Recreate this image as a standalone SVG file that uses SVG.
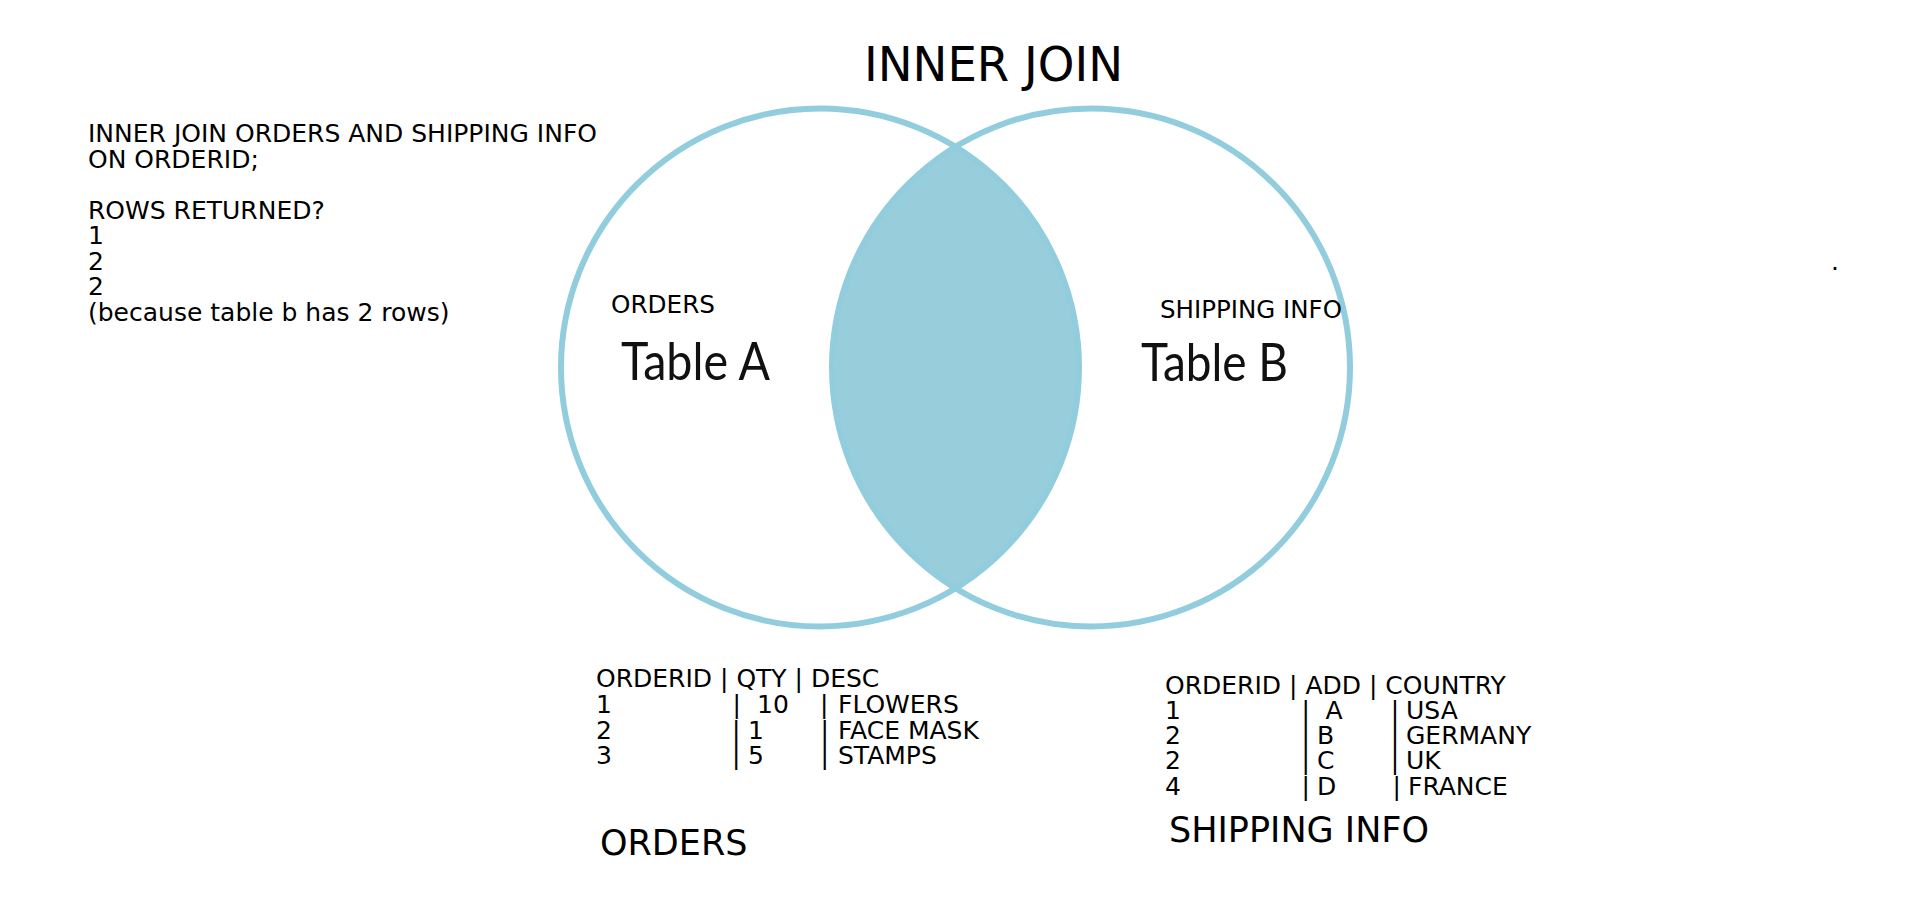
<svg xmlns="http://www.w3.org/2000/svg" width="1920" height="907" viewBox="0 0 1920 907">
<style>
.t{font-family:"DejaVu Sans",sans-serif;font-size:25px;fill:#000}
.big{font-family:"DejaVu Sans",sans-serif;font-size:35px;fill:#000}
.lbl{font-family:"DejaVu Sans",sans-serif;font-size:24px;fill:#000}
.tbl{font-family:Lato,"Liberation Sans",sans-serif;font-size:52px;fill:#111}
.ring{fill:none;stroke:#92cddd;stroke-width:6}
.lens{fill:#98cddc;stroke:#98cddc;stroke-width:1}
</style>
<rect width="1920" height="907" fill="#fff"/>
<g id="title"><text x="864" y="81" font-family="DejaVu Sans, sans-serif" font-size="48" textLength="259" lengthAdjust="spacingAndGlyphs">INNER JOIN</text></g>
<g id="query">
<text class="t" x="88" y="142">INNER JOIN ORDERS AND SHIPPING INFO</text>
<text class="t" x="88" y="167.5">ON ORDERID;</text>
<text class="t" x="88" y="218.5">ROWS RETURNED?</text>
<text class="t" x="88" y="244">1</text>
<text class="t" x="88" y="269.5">2</text>
<text class="t" x="88" y="295">2</text>
<text class="t" x="88" y="320.5">(because table b has 2 rows)</text>
</g>
<g id="connectors">
<path id="intersection" class="lens" d="M955.5,147.5 A259,259 0 0 0 955.5,587.5 A259,259 0 0 0 955.5,147.5 Z"/>
</g>
<g id="tableA">
<circle class="ring" cx="820" cy="367.5" r="259"/>
<text class="lbl" x="611" y="313" textLength="104" lengthAdjust="spacingAndGlyphs">ORDERS</text>
<text class="tbl" x="621" y="380" textLength="149" lengthAdjust="spacingAndGlyphs">Table A</text>
</g>
<g id="tableB">
<circle class="ring" cx="1091" cy="367.5" r="259"/>
<text class="lbl" x="1160" y="318" textLength="182" lengthAdjust="spacingAndGlyphs">SHIPPING INFO</text>
<text class="tbl" x="1141" y="381" textLength="147" lengthAdjust="spacingAndGlyphs">Table B</text>
</g>
<g id="ordersTable">
<text class="t" x="596" y="687">ORDERID | QTY | DESC</text>
<text class="t" y="713"><tspan x="596">1</tspan><tspan x="732.5">|</tspan><tspan x="757">10</tspan><tspan x="820">|</tspan><tspan x="838">FLOWERS</tspan></text>
<text class="t" y="739"><tspan x="596">2</tspan><tspan x="732">|</tspan><tspan x="748">1</tspan><tspan x="820.5">|</tspan><tspan x="838">FACE MASK</tspan></text>
<text class="t" y="764"><tspan x="596">3</tspan><tspan x="732">|</tspan><tspan x="748">5</tspan><tspan x="820.5">|</tspan><tspan x="838">STAMPS</tspan></text>
<text class="big" x="600" y="855">ORDERS</text>
</g>
<g id="shippingTable">
<text class="t" x="1165" y="694">ORDERID | ADD | COUNTRY</text>
<text class="t" y="719"><tspan x="1165">1</tspan><tspan x="1301.5">|</tspan><tspan x="1325.5">A</tspan><tspan x="1390.8">|</tspan><tspan x="1406">USA</tspan></text>
<text class="t" y="744"><tspan x="1165">2</tspan><tspan x="1301.5">|</tspan><tspan x="1317">B</tspan><tspan x="1390.8">|</tspan><tspan x="1406">GERMANY</tspan></text>
<text class="t" y="769"><tspan x="1165">2</tspan><tspan x="1301.5">|</tspan><tspan x="1317">C</tspan><tspan x="1390.8">|</tspan><tspan x="1406">UK</tspan></text>
<text class="t" y="795"><tspan x="1165">4</tspan><tspan x="1301.5">|</tspan><tspan x="1317">D</tspan><tspan x="1392.5">|</tspan><tspan x="1408">FRANCE</tspan></text>
<text class="big" x="1169" y="842">SHIPPING INFO</text>
</g>
<g id="dot"><text class="t" x="1831" y="269.5">.</text></g>
</svg>
